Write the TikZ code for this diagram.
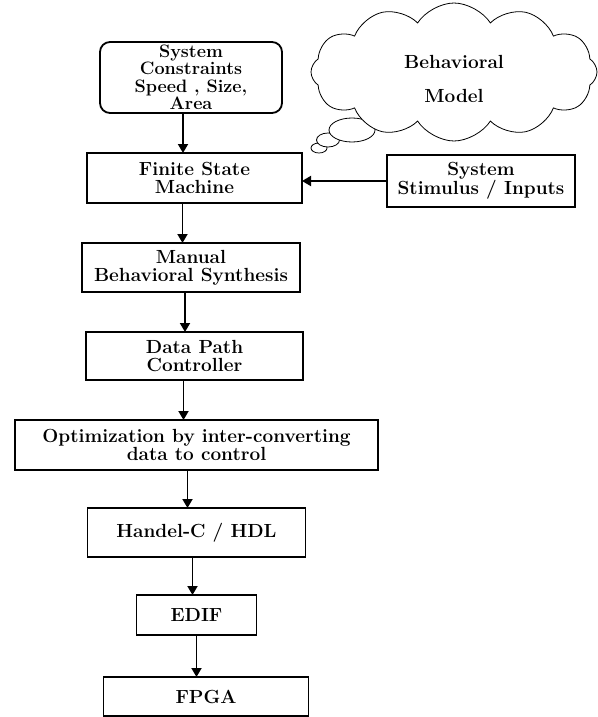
\documentclass[tikz,border=0pt]{standalone}
\usepackage{fontspec}
\usetikzlibrary{arrows.meta,positioning,shapes.geometric,shapes.symbols}
\begin{document}
\begin{tikzpicture}[x=1pt,y=-1pt,
  box/.style={draw, line width=1.8pt, outer sep=0pt, align=center, inner sep=2pt, font=\fontsize{19}{18}\selectfont\bfseries},
  arr/.style={line width=1.8pt, -{Triangle[length=9pt,width=10pt]}},
  puff/.style={draw, ellipse, fill=white, line width=0.8pt, inner sep=0pt},
  node distance=40pt
]
  \useasboundingbox (0,0) rectangle (597,717);
  % thought bubble
  \node[puff, minimum width=16pt, minimum height=10pt] (p3) at (319,148) {};
  \node[puff, minimum width=23pt, minimum height=14pt] (p2) at (328,140) {};
  \node[puff, minimum width=46pt, minimum height=24pt] (p1) at (352,130) {};
  \node[cloud, draw, fill=white, line width=0.8pt, cloud puffs=12, cloud puff arc=115, aspect=2,
        minimum width=286pt, minimum height=138pt, align=center,
        font=\fontsize{19}{18}\selectfont\bfseries] (model) at (454,72) {\mbox{}\\[10pt]Behavioral\\[16pt]Model};
  % main flow
  \node[box, rounded corners=10pt, minimum width=182pt, minimum height=71pt, inner sep=1pt,
        font=\fontsize{18}{17.5}\selectfont\bfseries] (cons) at (191,77.5)
       {System\\Constraints\\Speed , Size,\\Area};
  \node[box, minimum width=215pt, minimum height=50pt, below=of cons, xshift=3.5pt] (fsm) {Finite State\\Machine};
  \node[box, minimum width=188pt, minimum height=52pt, right=85pt of fsm, yshift=-3pt] (stim) {System\\Stimulus / Inputs};
  \node[box, minimum width=218pt, minimum height=49pt, below=of fsm, xshift=-3.5pt] (manual) {Manual\\Behavioral Synthesis};
  \node[box, minimum width=217pt, minimum height=48pt, below=of manual, xshift=3.5pt] (dpc) {Data Path\\Controller};
  \node[box, minimum width=363pt, minimum height=50pt, below=of dpc, xshift=2pt] (opt) {Optimization by inter-converting\\data to control};
  \node[box, minimum width=218pt, minimum height=49pt, below=38pt of opt] (hdl) {Handel-C / HDL};
  \node[box, minimum width=120pt, minimum height=40pt, below=38pt of hdl] (edif) {EDIF};
  \node[box, minimum width=205pt, minimum height=39pt, below=42pt of edif, xshift=9.5pt] (fpga) {FPGA};
  % arrows
  \draw[arr] ([xshift=-8pt]cons.south) -- ([xshift=-8pt]cons.south |- fsm.north);
  \draw[arr] ([xshift=-12pt]fsm.south) -- ([xshift=-12pt]fsm.south |- manual.north);
  \draw[arr] ([xshift=-6pt]manual.south) -- ([xshift=-6pt]manual.south |- dpc.north);
  \draw[arr] ([xshift=-11pt]dpc.south) -- ([xshift=-11pt]dpc.south |- opt.north);
  \draw[arr] ([xshift=-9pt]opt.south) -- ([xshift=-9pt]opt.south |- hdl.north);
  \draw[arr] ([xshift=-4pt]hdl.south) -- ([xshift=-4pt]hdl.south |- edif.north);
  \draw[arr] (edif.south) -- (edif.south |- fpga.north);
  \draw[arr] (stim.west) -- (stim.west -| fsm.east);
\end{tikzpicture}
\end{document}
